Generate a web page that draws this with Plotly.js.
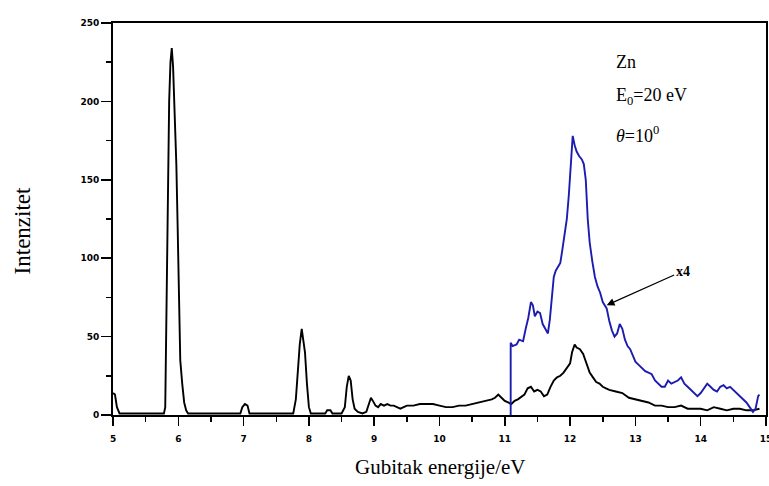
<!DOCTYPE html>
<html>
<head>
<meta charset="utf-8">
<script src="https://cdn.plot.ly/plotly-3.0.1.min.js"></script>
<style>html,body{margin:0;padding:0;background:#fff;}#chart{width:769px;height:486px;}</style>
</head>
<body>
<div id="chart"></div>
<script>
// Black spectrum (energy loss in eV, intensity)
const energyBlack = [5.00,5.03,5.06,5.10,5.30,5.60,5.78,5.80,5.82,5.84,5.86,5.88,5.90,5.92,5.94,5.97,5.99,6.01,6.03,6.06,6.09,6.12,6.15,6.50,6.95,6.98,7.02,7.06,7.09,7.50,7.76,7.80,7.83,7.86,7.89,7.91,7.94,7.97,8.00,8.03,8.25,8.28,8.33,8.36,8.50,8.55,8.58,8.61,8.64,8.67,8.70,8.75,8.82,8.88,8.92,8.95,8.98,9.02,9.06,9.10,9.15,9.20,9.25,9.30,9.40,9.45,9.50,9.60,9.70,9.80,9.90,10.00,10.10,10.20,10.30,10.40,10.50,10.60,10.70,10.80,10.85,10.90,10.95,11.00,11.05,11.10,11.15,11.20,11.30,11.35,11.40,11.45,11.50,11.55,11.60,11.65,11.70,11.75,11.80,11.85,11.90,11.95,12.00,12.03,12.07,12.10,12.15,12.20,12.25,12.30,12.35,12.40,12.45,12.50,12.55,12.60,12.70,12.80,12.90,13.00,13.10,13.20,13.30,13.40,13.50,13.60,13.70,13.80,13.90,14.00,14.10,14.20,14.30,14.40,14.50,14.60,14.70,14.80,14.90];
const intensityBlack = [14,13,5,1,1,1,1,5,80,120,200,225,234,222,200,160,120,80,35,20,8,3,1,1,1,5,7,6,1,1,1,10,28,45,55,50,40,20,5,1,1,3,3,1,1,5,18,25,22,10,4,2,1,2,8,11,9,6,5,7,6,7,6,6,4,5,6,6,7,7,7,6,5,5,6,6,7,8,9,10,11,13,11,9,8,7,9,10,13,17,18,15,16,15,12,13,18,22,24,25,27,30,33,40,45,43,42,39,33,27,24,21,20,18,17,16,15,14,11,10,9,8,6,6,5,5,6,4,4,4,3,5,4,3,4,4,3,3,4];

// Blue spectrum (x4 magnified)
const energyBlue = [11.09,11.09,11.12,11.18,11.22,11.28,11.32,11.36,11.40,11.43,11.46,11.50,11.54,11.58,11.62,11.66,11.69,11.72,11.75,11.78,11.82,11.85,11.88,11.92,11.95,11.98,12.01,12.04,12.07,12.10,12.14,12.18,12.21,12.24,12.27,12.30,12.34,12.38,12.42,12.46,12.50,12.53,12.56,12.60,12.64,12.68,12.72,12.76,12.80,12.84,12.88,12.92,12.96,13.00,13.05,13.10,13.15,13.20,13.25,13.30,13.35,13.40,13.45,13.50,13.55,13.60,13.65,13.70,13.75,13.80,13.85,13.90,13.95,14.00,14.05,14.10,14.15,14.20,14.25,14.30,14.35,14.40,14.45,14.50,14.55,14.60,14.65,14.70,14.75,14.80,14.84,14.88,14.90];
const intensityBlue = [0,46,44,45,48,47,55,62,72,70,63,66,65,58,55,52,61,75,88,92,95,97,105,115,125,140,160,178,172,168,165,163,160,150,125,110,98,88,82,78,72,70,68,60,54,50,52,58,55,48,44,42,38,34,32,30,28,27,26,22,20,18,18,22,20,21,22,24,20,18,16,14,12,14,17,20,18,16,15,18,19,17,18,16,14,12,10,8,5,2,4,12,13];

const xTickVals = [5,6,7,8,9,10,11,12,13,14,15];
const yTickVals = [0,50,100,150,200,250];

const serif = "Liberation Serif, Times New Roman, serif";
const tickFont = {family: "DejaVu Sans, Arial, sans-serif", size: 9, color: "#000", weight: "bold"};

const traces = [
  {x: energyBlack, y: intensityBlack, type: "scatter", mode: "lines",
   line: {color: "#000000", width: 1.9}, showlegend: false, hoverinfo: "skip"},
  {x: energyBlue, y: intensityBlue, type: "scatter", mode: "lines",
   line: {color: "#1c1cb0", width: 1.9}, showlegend: false, hoverinfo: "skip"}
];

const layout = {
  width: 769, height: 486,
  margin: {l: 113, r: 3, t: 23, b: 71},
  paper_bgcolor: "#ffffff", plot_bgcolor: "#ffffff",
  showlegend: false,
  xaxis: {
    range: [5, 15], tickvals: xTickVals, ticktext: xTickVals.map(String),
    ticks: "outside", ticklen: 9, tickwidth: 1.5, tickcolor: "#000",
    ticklabelstandoff: 5, ticklabeloverflow: "allow",
    minor: {dtick: 0.5, tick0: 5, ticks: "outside", ticklen: 5, tickwidth: 1.5, tickcolor: "#000", showgrid: false},
    showline: true, linecolor: "#000", linewidth: 2, mirror: true,
    showgrid: false, zeroline: false, tickfont: tickFont, fixedrange: true
  },
  yaxis: {
    range: [0, 250], tickvals: yTickVals, ticktext: yTickVals.map(String),
    ticks: "outside", ticklen: 10, tickwidth: 1.5, tickcolor: "#000",
    minor: {dtick: 25, tick0: 0, ticks: "outside", ticklen: 5, tickwidth: 1.5, tickcolor: "#000", showgrid: false},
    showline: true, linecolor: "#000", linewidth: 2, mirror: true,
    showgrid: false, zeroline: false, tickfont: tickFont, fixedrange: true
  },
  annotations: [
    {xref: "paper", yref: "paper", x: 0.50, y: -0.133, text: "Gubitak energije/eV",
     showarrow: false, xanchor: "center", yanchor: "middle",
     font: {family: serif, size: 21, color: "#000"}},
    {xref: "paper", yref: "paper", x: -0.139, y: 0.469, text: "Intenzitet", textangle: -90,
     showarrow: false, xanchor: "center", yanchor: "middle",
     font: {family: serif, size: 23, color: "#000"}},
    {xref: "x", yref: "y", x: 12.67, y: 225, text: "Zn", showarrow: false,
     xanchor: "left", yanchor: "middle", font: {family: serif, size: 18, color: "#000"}},
    {xref: "x", yref: "y", x: 12.67, y: 203, text: "E<sub>0</sub>=20 eV", showarrow: false,
     xanchor: "left", yanchor: "middle", font: {family: serif, size: 18, color: "#000"}},
    {xref: "x", yref: "y", x: 12.67, y: 179, text: "<i>θ</i>=10<sup>0</sup>", showarrow: false,
     xanchor: "left", yanchor: "middle", font: {family: serif, size: 18, color: "#000"}},
    {xref: "x", yref: "y", x: 12.56, y: 70, text: "x4", showarrow: true,
     ax: 76, ay: -34, arrowhead: 2, arrowsize: 1.3, arrowwidth: 1.2, arrowcolor: "#000",
     font: {family: serif, size: 14, color: "#000", weight: "bold"}}
  ]
};

Plotly.newPlot("chart", traces, layout, {displayModeBar: false, staticPlot: true});
</script>
</body>
</html>
